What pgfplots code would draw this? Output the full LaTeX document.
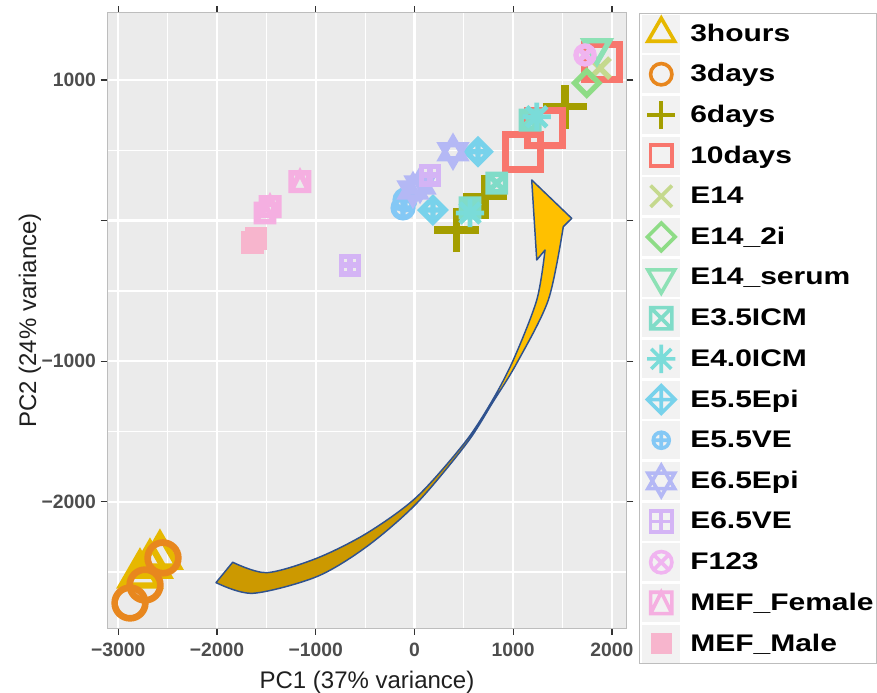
\documentclass[border=0pt]{standalone}
\usepackage{pgfplots}
\pgfplotsset{compat=1.18}
\usepackage{fontspec}
\setmainfont{Liberation Sans}
\newfontfamily\legfont{Liberation Sans}[FakeStretch=1.25]

\definecolor{panelbg}{HTML}{EBEBEB}
\definecolor{framegray}{HTML}{BDBDBD}
\definecolor{tickgray}{HTML}{333333}
\definecolor{ticktext}{HTML}{4D4D4D}
\definecolor{keybg}{HTML}{F2F2F2}
\definecolor{cA}{HTML}{E6B800}
\definecolor{cB}{HTML}{E8871E}
\definecolor{cC}{HTML}{A49E00}
\definecolor{cD}{HTML}{F8766D}
\definecolor{cE}{HTML}{C5D98E}
\definecolor{cF}{HTML}{8EDC86}
\definecolor{cG}{HTML}{8DE1B5}
\definecolor{cH}{HTML}{80DCC8}
\definecolor{cI}{HTML}{7ADCD9}
\definecolor{cJ}{HTML}{78D2EB}
\definecolor{cK}{HTML}{84C8F5}
\definecolor{cL}{HTML}{B4B8F5}
\definecolor{cM}{HTML}{D4B4F5}
\definecolor{cN}{HTML}{F0B4F0}
\definecolor{cO}{HTML}{F5AFE1}
\definecolor{cP}{HTML}{F7B5CD}
\definecolor{arrowdark}{HTML}{CC9900}
\definecolor{arrowbright}{HTML}{FFC000}
\definecolor{arrowline}{HTML}{2F528F}

\pgfdeclarehorizontalshading{arrowshade}{100bp}{color(0bp)=(arrowdark); color(62bp)=(arrowdark); color(65bp)=(arrowbright); color(100bp)=(arrowbright)}

% ggplot-like shapes, sized by \pgfplotmarksize
\pgfdeclareplotmark{gtri}{%
 \pgfpathmoveto{\pgfqpoint{0pt}{1.45\pgfplotmarksize}}%
 \pgfpathlineto{\pgfqpoint{1.2557\pgfplotmarksize}{-0.725\pgfplotmarksize}}%
 \pgfpathlineto{\pgfqpoint{-1.2557\pgfplotmarksize}{-0.725\pgfplotmarksize}}%
 \pgfpathclose\pgfusepathqstroke}
\pgfdeclareplotmark{gtridown}{%
 \pgfpathmoveto{\pgfqpoint{0pt}{-1.45\pgfplotmarksize}}%
 \pgfpathlineto{\pgfqpoint{1.2557\pgfplotmarksize}{0.725\pgfplotmarksize}}%
 \pgfpathlineto{\pgfqpoint{-1.2557\pgfplotmarksize}{0.725\pgfplotmarksize}}%
 \pgfpathclose\pgfusepathqstroke}
\pgfdeclareplotmark{gcirc}{%
 \pgfpathcircle{\pgfpointorigin}{\pgfplotmarksize}\pgfusepathqstroke}
\pgfdeclareplotmark{gplus}{%
 \pgfpathmoveto{\pgfqpoint{-1.33\pgfplotmarksize}{0pt}}%
 \pgfpathlineto{\pgfqpoint{1.33\pgfplotmarksize}{0pt}}%
 \pgfpathmoveto{\pgfqpoint{0pt}{-1.33\pgfplotmarksize}}%
 \pgfpathlineto{\pgfqpoint{0pt}{1.33\pgfplotmarksize}}%
 \pgfusepathqstroke}
\pgfdeclareplotmark{gsq}{%
 \pgfpathrectanglecorners{\pgfqpoint{-\pgfplotmarksize}{-\pgfplotmarksize}}{\pgfqpoint{\pgfplotmarksize}{\pgfplotmarksize}}%
 \pgfusepathqstroke}
\pgfdeclareplotmark{gx}{%
 \pgfpathmoveto{\pgfqpoint{-\pgfplotmarksize}{-\pgfplotmarksize}}%
 \pgfpathlineto{\pgfqpoint{\pgfplotmarksize}{\pgfplotmarksize}}%
 \pgfpathmoveto{\pgfqpoint{-\pgfplotmarksize}{\pgfplotmarksize}}%
 \pgfpathlineto{\pgfqpoint{\pgfplotmarksize}{-\pgfplotmarksize}}%
 \pgfusepathqstroke}
\pgfdeclareplotmark{gdiam}{%
 \pgfpathmoveto{\pgfqpoint{0pt}{1.3\pgfplotmarksize}}%
 \pgfpathlineto{\pgfqpoint{1.3\pgfplotmarksize}{0pt}}%
 \pgfpathlineto{\pgfqpoint{0pt}{-1.3\pgfplotmarksize}}%
 \pgfpathlineto{\pgfqpoint{-1.3\pgfplotmarksize}{0pt}}%
 \pgfpathclose\pgfusepathqstroke}
\pgfdeclareplotmark{gsqx}{%
 \pgfpathrectanglecorners{\pgfqpoint{-\pgfplotmarksize}{-\pgfplotmarksize}}{\pgfqpoint{\pgfplotmarksize}{\pgfplotmarksize}}%
 \pgfpathmoveto{\pgfqpoint{-\pgfplotmarksize}{-\pgfplotmarksize}}%
 \pgfpathlineto{\pgfqpoint{\pgfplotmarksize}{\pgfplotmarksize}}%
 \pgfpathmoveto{\pgfqpoint{-\pgfplotmarksize}{\pgfplotmarksize}}%
 \pgfpathlineto{\pgfqpoint{\pgfplotmarksize}{-\pgfplotmarksize}}%
 \pgfusepathqstroke}
\pgfdeclareplotmark{gast}{%
 \pgfpathmoveto{\pgfqpoint{-1.33\pgfplotmarksize}{0pt}}%
 \pgfpathlineto{\pgfqpoint{1.33\pgfplotmarksize}{0pt}}%
 \pgfpathmoveto{\pgfqpoint{0pt}{-1.33\pgfplotmarksize}}%
 \pgfpathlineto{\pgfqpoint{0pt}{1.33\pgfplotmarksize}}%
 \pgfpathmoveto{\pgfqpoint{-0.94\pgfplotmarksize}{-0.94\pgfplotmarksize}}%
 \pgfpathlineto{\pgfqpoint{0.94\pgfplotmarksize}{0.94\pgfplotmarksize}}%
 \pgfpathmoveto{\pgfqpoint{-0.94\pgfplotmarksize}{0.94\pgfplotmarksize}}%
 \pgfpathlineto{\pgfqpoint{0.94\pgfplotmarksize}{-0.94\pgfplotmarksize}}%
 \pgfusepathqstroke}
\pgfdeclareplotmark{gdiamplus}{%
 \pgfpathmoveto{\pgfqpoint{0pt}{1.3\pgfplotmarksize}}%
 \pgfpathlineto{\pgfqpoint{1.3\pgfplotmarksize}{0pt}}%
 \pgfpathlineto{\pgfqpoint{0pt}{-1.3\pgfplotmarksize}}%
 \pgfpathlineto{\pgfqpoint{-1.3\pgfplotmarksize}{0pt}}%
 \pgfpathclose
 \pgfpathmoveto{\pgfqpoint{-1.3\pgfplotmarksize}{0pt}}%
 \pgfpathlineto{\pgfqpoint{1.3\pgfplotmarksize}{0pt}}%
 \pgfpathmoveto{\pgfqpoint{0pt}{-1.3\pgfplotmarksize}}%
 \pgfpathlineto{\pgfqpoint{0pt}{1.3\pgfplotmarksize}}%
 \pgfusepathqstroke}
\pgfdeclareplotmark{gcircplus}{%
 \pgfpathcircle{\pgfpointorigin}{0.75\pgfplotmarksize}%
 \pgfpathmoveto{\pgfqpoint{-0.75\pgfplotmarksize}{0pt}}%
 \pgfpathlineto{\pgfqpoint{0.75\pgfplotmarksize}{0pt}}%
 \pgfpathmoveto{\pgfqpoint{0pt}{-0.75\pgfplotmarksize}}%
 \pgfpathlineto{\pgfqpoint{0pt}{0.75\pgfplotmarksize}}%
 \pgfusepathqstroke}
\pgfdeclareplotmark{gstar}{%
 \pgfpathmoveto{\pgfqpoint{0pt}{1.45\pgfplotmarksize}}%
 \pgfpathlineto{\pgfqpoint{1.2557\pgfplotmarksize}{-0.725\pgfplotmarksize}}%
 \pgfpathlineto{\pgfqpoint{-1.2557\pgfplotmarksize}{-0.725\pgfplotmarksize}}%
 \pgfpathclose
 \pgfpathmoveto{\pgfqpoint{0pt}{-1.45\pgfplotmarksize}}%
 \pgfpathlineto{\pgfqpoint{1.2557\pgfplotmarksize}{0.725\pgfplotmarksize}}%
 \pgfpathlineto{\pgfqpoint{-1.2557\pgfplotmarksize}{0.725\pgfplotmarksize}}%
 \pgfpathclose\pgfusepathqstroke}
\pgfdeclareplotmark{gsqplus}{%
 \pgfpathrectanglecorners{\pgfqpoint{-\pgfplotmarksize}{-\pgfplotmarksize}}{\pgfqpoint{\pgfplotmarksize}{\pgfplotmarksize}}%
 \pgfpathmoveto{\pgfqpoint{-\pgfplotmarksize}{0pt}}%
 \pgfpathlineto{\pgfqpoint{\pgfplotmarksize}{0pt}}%
 \pgfpathmoveto{\pgfqpoint{0pt}{-\pgfplotmarksize}}%
 \pgfpathlineto{\pgfqpoint{0pt}{\pgfplotmarksize}}%
 \pgfusepathqstroke}
\pgfdeclareplotmark{gcircx}{%
 \pgfpathcircle{\pgfpointorigin}{\pgfplotmarksize}%
 \pgfpathmoveto{\pgfqpoint{-0.707\pgfplotmarksize}{-0.707\pgfplotmarksize}}%
 \pgfpathlineto{\pgfqpoint{0.707\pgfplotmarksize}{0.707\pgfplotmarksize}}%
 \pgfpathmoveto{\pgfqpoint{-0.707\pgfplotmarksize}{0.707\pgfplotmarksize}}%
 \pgfpathlineto{\pgfqpoint{0.707\pgfplotmarksize}{-0.707\pgfplotmarksize}}%
 \pgfusepathqstroke}
\pgfdeclareplotmark{gsqtri}{%
 \pgfpathrectanglecorners{\pgfqpoint{-\pgfplotmarksize}{-\pgfplotmarksize}}{\pgfqpoint{\pgfplotmarksize}{\pgfplotmarksize}}%
 \pgfpathmoveto{\pgfqpoint{-\pgfplotmarksize}{-\pgfplotmarksize}}%
 \pgfpathlineto{\pgfqpoint{0pt}{\pgfplotmarksize}}%
 \pgfpathlineto{\pgfqpoint{\pgfplotmarksize}{-\pgfplotmarksize}}%
 \pgfusepathqstroke}
\pgfdeclareplotmark{gsqfill}{%
 \pgfpathrectanglecorners{\pgfqpoint{-\pgfplotmarksize}{-\pgfplotmarksize}}{\pgfqpoint{\pgfplotmarksize}{\pgfplotmarksize}}%
 \pgfusepathqfill}

\begin{document}
\begin{tikzpicture}
\useasboundingbox (-80.475pt,-47.775pt) rectangle (577.275pt,471.225pt);
\begin{axis}[
  scale only axis, width=389.55pt, height=461.7pt,
  xmin=-3111, xmax=2149, ymin=-2900, ymax=1479,
  axis background/.style={fill=panelbg},
  axis line style={draw=framegray, line width=0.9pt},
  xtick={-3000,-2000,-1000,0,1000,2000},
  xticklabels={−3000,−2000,−1000,0,1000,2000},
  ytick={-2000,-1000,0,1000},
  yticklabels={−2000,−1000,,1000},
  minor xtick={-2500,-1500,-500,500,1500},
  minor ytick={-2500,-1500,-500,500},
  grid=both,
  major grid style={draw=white, line width=1.7pt},
  minor grid style={draw=white, line width=0.9pt},
  tick align=outside,
  major tick length=5pt,
  minor tick length=0pt,
  every tick/.style={draw=tickgray, line width=0.9pt},
  tick label style={font=\fontsize{14.5}{16}\selectfont\bfseries, text=ticktext},
  xticklabel style={yshift=-2.5pt},
  xlabel={PC1 (37\% variance)},
  ylabel={PC2 (24\% variance)},
  every axis x label/.style={at={(axis description cs:0.5,-0.087)}, anchor=center,
    font=\fontsize{18}{20}\selectfont, text=black!88},
  every axis y label/.style={at={(axis description cs:-0.1488,0.5)}, rotate=90, anchor=center,
    font=\fontsize{18}{20}\selectfont, text=black!88},
  legend cell align=left,
  legend style={at={(axis description cs:1.0243,1.0)}, anchor=north west,
    draw=framegray, line width=0.8pt, fill=white, inner xsep=1.8pt, inner ysep=1pt,
    row sep=2pt, font=\legfont\bfseries\fontsize{18}{20}\selectfont,
    nodes={inner sep=0pt, text depth=0.15em}},
  legend image code/.code={
    \fill[keybg, draw=none] (0pt,-14.25pt) rectangle (28.5pt,14.25pt);
    \path[draw=none, fill=none] (0pt,0pt) -- (36pt,0pt);
    \draw[#1, only marks, mark size=8pt, line width=2.7pt] plot coordinates {(14.25pt,0pt)};
  },
  every axis plot/.append style={only marks},
]
\addplot[color=cA, mark=gtri, mark size=11pt, line width=4.8pt] coordinates {(-2780,-2520) (-2679,-2450) (-2578,-2386)};
\addlegendentry{3hours}
\addplot[color=cB, mark=gcirc, mark size=11.5pt, line width=5pt] coordinates {(-2881,-2720) (-2729,-2592) (-2547,-2399)};
\addlegendentry{3days}
\addplot[color=cC, mark=gplus, mark size=12.5pt, line width=5.5pt] coordinates {(427,-67) (714,170) (1524,810)};
\addlegendentry{6days}
\addplot[color=cD, mark=gsq, mark size=13pt, line width=5.25pt] coordinates {(1099,490) (1322,659) (1896,1130)};
\addlegendentry{10days}
\addplot[color=cE, mark=gx, mark size=7.5pt, line width=4pt] coordinates {(1879,1085)};
\addlegendentry{E14}
\addplot[color=cF, mark=gdiam, mark size=7pt, line width=4pt] coordinates {(1744,979)};
\addlegendentry{E14\_2i}
\addplot[color=cG, mark=gtridown, mark size=7.5pt, line width=4pt] coordinates {(1848,1228)};
\addlegendentry{E14\_serum}
\addplot[color=cH, mark=gsqx, mark size=6.6pt, line width=4pt] coordinates {(833,267) (562,90) (1170,715)};
\addlegendentry{E3.5ICM}
\addplot[color=cI, mark=gast, mark size=8pt, line width=3.6pt] coordinates {(1238,739) (562,54)};
\addlegendentry{E4.0ICM}
\addplot[color=cJ, mark=gdiamplus, mark size=7pt, line width=4pt] coordinates {(643,490) (187,75)};
\addlegendentry{E5.5Epi}
\addplot[color=cK, mark=gcircplus, mark size=9.9pt, line width=4pt] coordinates {(-116,90) (-96,147)};
\addlegendentry{E5.5VE}
\addplot[color=cL, mark=gstar, mark size=7.2pt, line width=4pt] coordinates {(390,490) (-15,218) (56,253)};
\addlegendentry{E6.5Epi}
\addplot[color=cM, mark=gsqplus, mark size=6.6pt, line width=4pt] coordinates {(157,324) (-653,-316)};
\addlegendentry{E6.5VE}
\addplot[color=cN, mark=gcircx, mark size=6.8pt, line width=4pt] coordinates {(1727,1178)};
\addlegendentry{F123}
\addplot[color=cO, mark=gsqtri, mark size=6.6pt, line width=4pt] coordinates {(-1160,277) (-1463,99) (-1514,54)};
\addlegendentry{MEF\_Female}
\addplot[color=cP, mark=gsqfill, mark size=8.6pt, line width=3pt] coordinates {(-1636,-159) (-1605,-124)};
\addlegendentry{MEF\_Male}

\path[shade, shading=arrowshade, draw=arrowline, line width=1.1pt, line join=round]
  (-1841,-2430) -- plot[smooth] coordinates {(-2010,-2575) (-1636,-2651) (-991,-2533) (-484,-2319) (22,-2011) (529,-1584) (795,-1290) (1035,-1015) (1355,-565) (1507,-43)}
  -- (1592,16) -- (1187,289) -- (1238,-280)
  -- plot[smooth] coordinates {(1322,-209) (1238,-565) (1001,-991) (785,-1283) (511,-1577) (22,-1966) (-484,-2224) (-991,-2402) (-1497,-2504) (-1841,-2430)}
  -- cycle;
\end{axis}
\end{tikzpicture}
\end{document}
